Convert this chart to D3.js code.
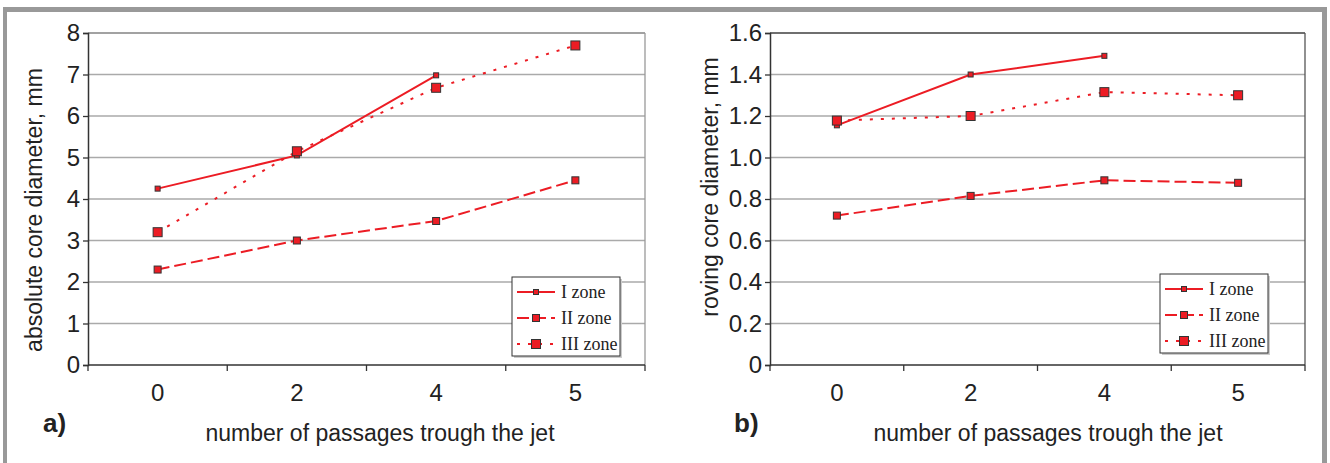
<!DOCTYPE html>
<html lang="en">
<head>
<meta charset="utf-8">
<title>Core diameter vs passages</title>
<script src="https://d3js.org/d3.v7.min.js"></script>
<style>
  body { margin: 0; background: #fff; font-family: "Liberation Sans", Arial, sans-serif; }
  svg text { fill: #222; }
</style>
</head>
<body>
<div id="vis"></div>
<script>
// categories on the x axis (number of passages)
const passages = ["0", "2", "4", "5"];

// panel a) absolute core diameter, mm
const absZone1 = [4.25, 5.05, 6.98, null];
const absZone2 = [2.3, 3.0, 3.47, 4.45];
const absZone3 = [3.2, 5.15, 6.68, 7.7];
const absTicks = [0, 1, 2, 3, 4, 5, 6, 7, 8];

// panel b) roving core diameter, mm
const rovZone1 = [1.155, 1.40, 1.49, null];
const rovZone2 = [0.72, 0.815, 0.89, 0.878];
const rovZone3 = [1.178, 1.20, 1.315, 1.30];
const rovTicks = [0, 0.2, 0.4, 0.6, 0.8, 1.0, 1.2, 1.4, 1.6];

const zoneNames = ["I zone", "II zone", "III zone"];

const width = 1330, height = 463;
const red = "#ec1c24";

// line and marker style for each zone
const styles = [
  { dash: null,   marker: 5 },
  { dash: "12,5", marker: 7 },
  { dash: "3,8",  marker: 9 }
];

const svg = d3.select("#vis").append("svg")
  .attr("width", width)
  .attr("height", height);

// outer gray frame
svg.append("rect").attr("x", 3).attr("y", 7).attr("width", 1324).attr("height", 5).attr("fill", "#999");
svg.append("rect").attr("x", 3).attr("y", 7).attr("width", 4).attr("height", height - 7).attr("fill", "#999");
svg.append("rect").attr("x", 1322).attr("y", 7).attr("width", 5).attr("height", height - 7).attr("fill", "#999");

function panel(opt) {
  const x = d3.scaleBand().domain(passages).range([opt.left, opt.right]).paddingInner(0).paddingOuter(0);
  const y = d3.scaleLinear().domain([0, opt.max]).range([365, 33]);
  const g = svg.append("g");

  // gridlines
  g.selectAll(".grid").data(opt.ticks.slice(1))
    .enter().append("line")
    .attr("x1", opt.left).attr("x2", opt.right)
    .attr("y1", d => y(d)).attr("y2", d => y(d))
    .attr("stroke", "#aaa").attr("stroke-width", 1.3);

  // right and top border of plot area
  g.append("line")
    .attr("x1", opt.right).attr("x2", opt.right).attr("y1", 33).attr("y2", 365)
    .attr("stroke", opt.frame).attr("stroke-width", 1.3);
  g.append("line")
    .attr("x1", opt.left).attr("x2", opt.right).attr("y1", 33).attr("y2", 33)
    .attr("stroke", opt.frame).attr("stroke-width", 1.3);

  // y axis
  const yAxis = g.append("g")
    .attr("transform", `translate(${opt.left},0)`)
    .call(d3.axisLeft(y).tickValues(opt.ticks).tickSize(5).tickPadding(3).tickFormat(opt.fmt));
  yAxis.select(".domain").attr("stroke", "#333").attr("stroke-width", 1.5);
  yAxis.selectAll(".tick line").attr("stroke", "#333").attr("stroke-width", 1.3);
  yAxis.selectAll(".tick text").attr("font-size", 24).attr("font-family", "Liberation Sans, Arial, sans-serif").attr("fill", "#222");

  // x axis: ticks at band boundaries, labels at band centres
  const xg = g.append("g");
  xg.append("line")
    .attr("x1", opt.left).attr("x2", opt.right).attr("y1", 365).attr("y2", 365)
    .attr("stroke", "#333").attr("stroke-width", 1.5);
  const bounds = passages.map(d => x(d)).concat([opt.right]);
  xg.selectAll(".xt").data(bounds).enter().append("line")
    .attr("x1", d => d).attr("x2", d => d).attr("y1", 365).attr("y2", 371)
    .attr("stroke", "#333").attr("stroke-width", 1.3);
  xg.selectAll(".xl").data(passages).enter().append("text")
    .attr("x", d => x(d) + x.bandwidth() / 2)
    .attr("y", 401)
    .attr("text-anchor", "middle")
    .attr("font-size", 24)
    .text(d => d);

  // axis titles
  g.append("text")
    .attr("transform", `translate(${opt.ytx},${opt.yty}) rotate(-90)`)
    .attr("text-anchor", "middle")
    .attr("font-size", 23)
    .text(opt.ytitle);
  g.append("text")
    .attr("x", opt.xtx).attr("y", 441)
    .attr("text-anchor", "middle")
    .attr("font-size", 23)
    .text("number of passages trough the jet");
  g.append("text")
    .attr("x", opt.tagx).attr("y", 432)
    .attr("font-size", 26).attr("font-weight", "bold")
    .text(opt.tag);

  // series
  const cx = d => x(d) + x.bandwidth() / 2;
  opt.series.forEach((vals, i) => {
    const pts = passages.map((p, j) => ({ p: p, v: vals[j] })).filter(d => d.v != null);
    const line = d3.line().x(d => cx(d.p)).y(d => y(d.v));
    g.append("path").datum(pts)
      .attr("d", line)
      .attr("fill", "none")
      .attr("stroke", red)
      .attr("stroke-width", 2)
      .attr("stroke-dasharray", styles[i].dash);
    const s = styles[i].marker;
    g.selectAll(".m" + i).data(pts).enter().append("rect")
      .attr("x", d => cx(d.p) - s / 2).attr("y", d => y(d.v) - s / 2)
      .attr("width", s).attr("height", s)
      .attr("fill", red).attr("stroke", "#333").attr("stroke-width", 1);
  });

  // legend
  const lg = g.append("g").attr("transform", `translate(${opt.lgx},${opt.lgy})`);
  lg.append("rect").attr("x", 2).attr("y", 2).attr("width", 108).attr("height", 79).attr("fill", "#ccc");
  lg.append("rect").attr("width", 108).attr("height", 79).attr("fill", "#fff").attr("stroke", "#333").attr("stroke-width", 1);
  zoneNames.forEach((name, i) => {
    const ry = 15 + i * 26;
    lg.append("line").attr("x1", 5).attr("x2", 43).attr("y1", ry).attr("y2", ry)
      .attr("stroke", red).attr("stroke-width", 2).attr("stroke-dasharray", styles[i].dash);
    const s = styles[i].marker;
    lg.append("rect").attr("x", 24 - s / 2).attr("y", ry - s / 2).attr("width", s).attr("height", s)
      .attr("fill", red).attr("stroke", "#333").attr("stroke-width", 1);
    lg.append("text").attr("x", 49).attr("y", ry + 6)
      .attr("font-family", "Liberation Serif, Times New Roman, serif")
      .attr("font-size", 18)
      .text(name);
  });
}

panel({
  left: 88, right: 645, max: 8, ticks: absTicks, fmt: d3.format("d"),
  series: [absZone1, absZone2, absZone3], frame: "#999",
  ytitle: "absolute core diameter, mm", ytx: 42, yty: 210,
  xtx: 380, tag: "a)", tagx: 43, lgx: 512, lgy: 277
});

panel({
  left: 770, right: 1305, max: 1.6, ticks: rovTicks,
  fmt: d => d === 0 ? "0" : d3.format(".1f")(d),
  series: [rovZone1, rovZone2, rovZone3], frame: "#555",
  ytitle: "roving core diameter, mm", ytx: 718, yty: 187,
  xtx: 1048, tag: "b)", tagx: 734, lgx: 1160, lgy: 274
});
</script>
</body>
</html>
